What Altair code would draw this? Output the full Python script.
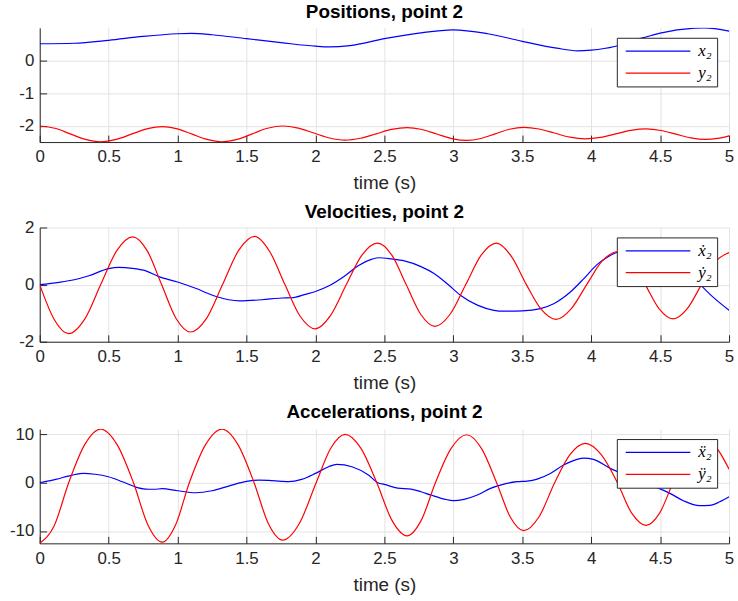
import altair as alt
import pandas as pd

# ---------------- data ----------------
x_ticks = [0, 0.5, 1, 1.5, 2, 2.5, 3, 3.5, 4, 4.5, 5]

# Positions, point 2
pos_x_t = [0.0, 0.25, 0.5, 0.75, 1.0, 1.1, 1.25, 1.5, 1.75, 2.0, 2.1, 2.25, 2.5, 2.75, 3.0, 3.25, 3.5,
           3.75, 3.9, 4.0, 4.17, 4.25, 4.38, 4.5, 4.75, 4.82, 5.0]
pos_x_v = [0.505, 0.52, 0.61, 0.73, 0.81, 0.82, 0.78, 0.66, 0.54, 0.43, 0.41, 0.45, 0.66, 0.83, 0.93, 0.81, 0.58,
           0.37, 0.29, 0.31, 0.42, 0.52, 0.69, 0.83, 0.98, 0.99, 0.89]
pos_y_t = [0.0, 0.11, 0.221, 0.332, 0.442, 0.554, 0.665, 0.777, 0.888, 0.997, 1.105, 1.214, 1.322, 1.432,
           1.542, 1.652, 1.762, 1.875, 1.988, 2.102, 2.215, 2.327, 2.44, 2.552, 2.664, 2.772, 2.88, 2.989,
           3.097, 3.2, 3.303, 3.407, 3.51, 3.622, 3.733, 3.845, 3.957, 4.067, 4.178, 4.288, 4.398, 4.506,
           4.614, 4.722, 4.83, 4.915, 5.0]
pos_y_v = [-2.00, -2.07, -2.24, -2.41, -2.48, -2.41, -2.25, -2.09, -2.02, -2.09, -2.25, -2.41, -2.48, -2.41,
           -2.24, -2.07, -2.00, -2.063, -2.215, -2.367, -2.43, -2.374, -2.24, -2.106, -2.05, -2.107, -2.245,
           -2.383, -2.44, -2.381, -2.24, -2.099, -2.04, -2.091, -2.215, -2.339, -2.39, -2.346, -2.24, -2.134,
           -2.09, -2.137, -2.25, -2.363, -2.41, -2.38, -2.30]

# Velocities, point 2
vel_x_t = [0.0, 0.14, 0.25, 0.357, 0.5, 0.574, 0.67, 0.77, 0.864, 1.0, 1.13, 1.274, 1.37, 1.45, 1.61, 1.757,
           1.83, 1.926, 2.0, 2.095, 2.215, 2.31, 2.41, 2.46, 2.55, 2.645, 2.765, 2.86, 2.958, 3.054, 3.174,
           3.295, 3.367, 3.5, 3.632, 3.728, 3.849, 3.945, 4.04, 4.138, 4.17, 4.25, 4.38, 4.5, 4.6, 4.7, 4.79,
           4.884, 5.0]
vel_x_v = [0.0, 0.08, 0.17, 0.31, 0.56, 0.60, 0.57, 0.48, 0.28, 0.09, -0.13, -0.41, -0.53, -0.57, -0.53, -0.47,
           -0.46, -0.34, -0.24, -0.05, 0.31, 0.66, 0.89, 0.94, 0.90, 0.83, 0.63, 0.39, 0.02, -0.38, -0.72,
           -0.90, -0.93, -0.92, -0.84, -0.67, -0.26, 0.20, 0.69, 1.02, 1.10, 1.20, 1.30, 1.15, 0.80, 0.38, 0.0,
           -0.44, -0.90]
vel_y_t = [0.0, 0.105, 0.21, 0.326, 0.4425, 0.559, 0.675, 0.78, 0.884, 0.988, 1.093, 1.21, 1.326, 1.443,
           1.559, 1.669, 1.7785, 1.888, 1.998, 2.111, 2.224, 2.337, 2.45, 2.554, 2.658, 2.762, 2.866, 2.978,
           3.09, 3.202, 3.314, 3.422, 3.53, 3.638, 3.745, 3.856, 3.9675, 4.079, 4.19, 4.291, 4.392, 4.493,
           4.594, 4.697, 4.80, 4.90, 5.0]
vel_y_v = [0.0, -1.22, -1.72, -1.21, 0.0, 1.19, 1.67, 1.18, 0.0, -1.18, -1.66, -1.18, 0.0, 1.20, 1.69, 1.15,
           0.0, -1.10, -1.55, -1.07, 0.0, 1.03, 1.45, 1.03, 0.0, -1.03, -1.46, -1.03, 0.0, 1.03, 1.45, 0.98,
           0.0, -0.87, -1.22, -0.84, 0.0, 0.82, 1.15, 0.83, 0.0, -0.85, -1.20, -0.84, 0.0, 0.80, 1.12]

# Accelerations, point 2
acc_x_t = [0.0, 0.116, 0.236, 0.321, 0.4, 0.497, 0.6, 0.69, 0.767, 0.83, 0.888, 1.0, 1.13, 1.25, 1.37, 1.5,
           1.588, 1.66, 1.75, 1.805, 1.9, 2.0, 2.095, 2.155, 2.264, 2.384, 2.452, 2.5, 2.596, 2.693, 2.765,
           2.837, 2.934, 3.0, 3.078, 3.174, 3.27, 3.367, 3.463, 3.536, 3.608, 3.704, 3.8, 3.897, 3.945, 4.017,
           4.138, 4.25, 4.35, 4.475, 4.571, 4.668, 4.788, 4.86, 4.933, 5.0]
acc_x_v = [0.0, 0.69, 1.59, 1.93, 1.75, 1.24, 0.20, -0.83, -1.31, -1.35, -1.24, -1.66, -2.07, -1.66, -0.69,
           0.28, 0.55, 0.48, 0.30, 0.21, 0.69, 1.93, 3.31, 3.79, 3.31, 1.59, 0.0, -0.35, -1.10, -1.31, -1.86,
           -2.55, -3.38, -3.72, -3.45, -2.55, -1.17, -0.28, 0.21, 0.34, 0.76, 1.93, 3.66, 4.83, 5.10, 4.83,
           2.97, 1.60, 0.40, -0.97, -2.20, -3.72, -4.76, -4.69, -3.93, -2.90]
acc_y_t = [0.0, 0.105, 0.21, 0.326, 0.442, 0.561, 0.68, 0.784, 0.888, 0.986, 1.085, 1.203, 1.322, 1.438,
           1.555, 1.658, 1.762, 1.883, 2.005, 2.11, 2.215, 2.33, 2.445, 2.555, 2.664, 2.767, 2.87, 2.983,
           3.097, 3.205, 3.314, 3.412, 3.51, 3.622, 3.735, 3.846, 3.957, 4.073, 4.19, 4.294, 4.398, 4.496,
           4.594, 4.71, 4.83, 4.90, 5.0]
acc_y_v = [-12.55, -8.9, 0.0, 7.9, 11.1, 7.9, 0.0, -8.7, -12.3, -8.7, 0.0, 7.9, 11.1, 7.9, 0.0, -8.45, -11.9,
           -8.45, 0.0, 7.1, 10.0, 7.1, 0.0, -7.8, -11.0, -7.8, 0.0, 7.05, 9.93, 7.05, 0.0, -7.05, -9.93, -7.05,
           0.0, 5.8, 8.14, 5.8, 0.0, -6.3, -8.83, -6.3, 0.0, 6.1, 8.6, 7.5, 2.8]

SANS = "Liberation Sans"
MATH = "'Liberation Serif', 'DejaVu Serif', serif"
BLUE = "#0000ff"
RED = "#ff0000"
DARK = "#262626"


def panel(tx, vx, ty, vy, names, title, domain, yticks, title_offset):
    df = pd.DataFrame({
        "t": tx + ty,
        "v": vx + vy,
        "s": [names[0]] * len(tx) + [names[1]] * len(ty),
    })
    xs = alt.Scale(domain=[0, 5], nice=False, zero=False)
    ys = alt.Scale(domain=domain, nice=False, zero=False)
    lines = alt.Chart(df).mark_line(
        interpolate="monotone", strokeWidth=1.2, clip=True
    ).encode(
        x=alt.X("t:Q", scale=xs,
                axis=alt.Axis(values=x_ticks, title="time (s)", labelExpr="'' + datum.value",
                              labelPadding=7, titlePadding=9)),
        y=alt.Y("v:Q", scale=ys,
                axis=alt.Axis(values=yticks, title=None, labelExpr="'' + datum.value",
                              labelPadding=6, minExtent=36, maxExtent=36)),
        color=alt.Color("s:N", scale=alt.Scale(domain=names, range=[BLUE, RED]),
                        legend=alt.Legend(
                            orient="none", legendX=581, legendY=10, title=None,
                            fillColor="white", strokeColor=DARK, padding=5,
                            symbolType="M-6.5,0H6.5", symbolSize=100, symbolStrokeWidth=1.2,
                            symbolOffset=28, labelOffset=32, rowPadding=4,
                            labelFont=MATH, labelFontStyle="italic", labelFontSize=17,
                            labelColor="black")),
    )
    # inward tick marks (MATLAB style): ticks-only axes pulled inside the plot
    inner = alt.Chart(df).mark_line(opacity=0).encode(
        x=alt.X("t:Q", scale=xs,
                axis=alt.Axis(orient="bottom", offset=-7, values=x_ticks, ticks=True, tickSize=7,
                              tickColor=DARK, tickWidth=1, domain=False, labels=False, grid=False,
                              title=None)),
        y=alt.Y("v:Q", scale=ys,
                axis=alt.Axis(orient="left", offset=-7, values=yticks, ticks=True, tickSize=7,
                              tickColor=DARK, tickWidth=1, domain=False, labels=False, grid=False,
                              title=None, minExtent=0, maxExtent=0)),
    )
    return alt.layer(
        lines, inner, title=alt.Title(title, frame="group", offset=title_offset)
    ).resolve_axis(x="independent", y="independent").properties(width=694, height=115)


p1 = panel(pos_x_t, pos_x_v, pos_y_t, pos_y_v, ["x\u2082", "y\u2082"],
           "Positions, point 2", [-2.49, 0.99], [-2, -1, 0], 6)
p2 = panel(vel_x_t, vel_x_v, vel_y_t, vel_y_v, ["\u1e8b\u2082", "\u1e8f\u2082"],
           "Velocities, point 2", [-2, 2], [-2, 0, 2], -3)
p3 = panel(acc_x_t, acc_x_v, acc_y_t, acc_y_v, ["\u1e8d\u2082", "\u00ff\u2082"],
           "Accelerations, point 2", [-12.55, 11.1], [-10, 0, 10], 3.5)

chart = alt.vconcat(p1, p2, p3, spacing=10).resolve_scale(
    color="independent"
).properties(
    padding={"left": 4, "top": 1, "right": 4, "bottom": 2}
).configure_view(stroke=None).configure_axis(
    domainColor=DARK, domainWidth=1, gridColor="#e3e3e3", gridWidth=1,
    ticks=False, labelFont=SANS, labelFontSize=17, labelColor=DARK,
    titleFont=SANS, titleFontSize=19, titleFontWeight="normal", titleColor=DARK,
    labelFlush=False, labelOverlap=False, labelBound=False,
).configure_title(
    font=SANS, fontSize=19, fontWeight="bold", color="black", anchor="middle"
)

chart.save("out.html", embed_options={"renderer": "svg", "actions": False})
